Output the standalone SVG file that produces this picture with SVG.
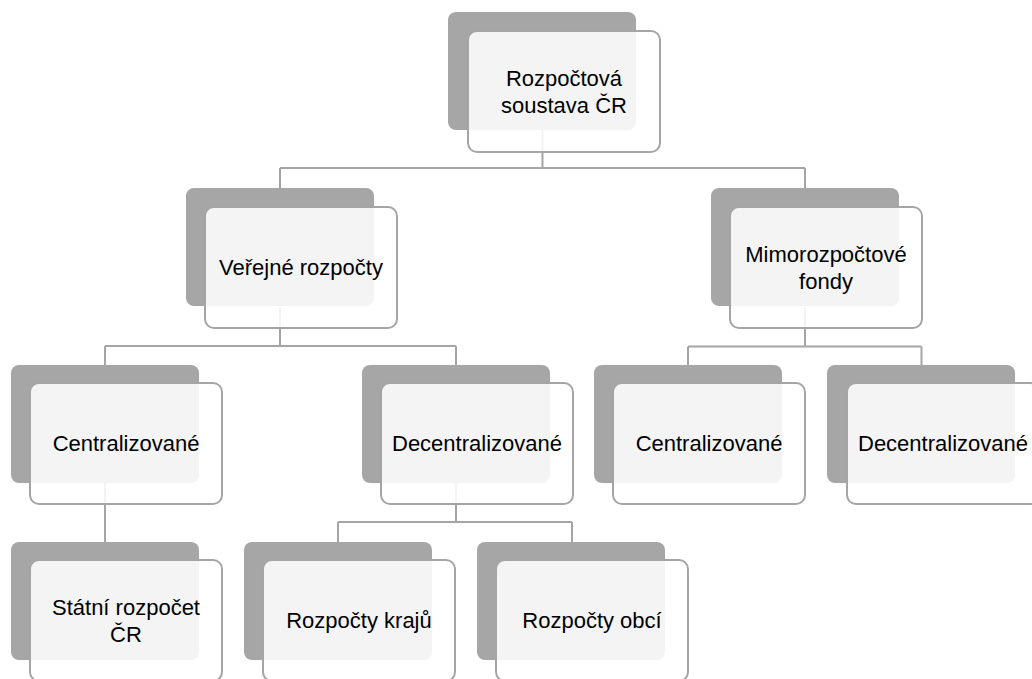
<svg xmlns="http://www.w3.org/2000/svg" width="1032" height="679" viewBox="0 0 1032 679">
<style>
.back{fill:#a6a6a6;}
.front{fill:#ffffff;fill-opacity:0.87;stroke:#a5a5a5;stroke-width:2;}
.lbl{font-family:"Liberation Sans",Arial,sans-serif;font-size:22px;fill:#000;text-anchor:middle;}
.con{fill:none;stroke:#a5a5a5;stroke-width:2;}
</style>
<rect width="1032" height="679" fill="#ffffff"/>
<g id="connectors">
<path class="con" d="M542.5,129 V168 M280,168 H805 M280,168 V188 M805,168 V188"/>
<path class="con" d="M280,307 V346 M105,346 H456 M105,346 V365 M456,346 V365"/>
<path class="con" d="M805,307 V346.5 M688,346.5 H921.5 M688,346.5 V365 M921.5,346.5 V365"/>
<path class="con" d="M105,483 V542"/>
<path class="con" d="M456,483 V522 M338,522 H572 M338,522 V542 M572,522 V542"/>
</g>
<g id="n-root">
<rect class="back" x="448" y="12" width="188" height="118" rx="8"/>
<rect class="front" x="468" y="31" width="192" height="121" rx="9"/>
<text class="lbl" x="564" y="85.5">Rozpočtová</text>
<text class="lbl" x="564" y="112.5">soustava ČR</text>
</g>
<g id="n-verejne">
<rect class="back" x="186" y="188" width="188" height="118" rx="8"/>
<rect class="front" x="205" y="207" width="192" height="121" rx="9"/>
<text class="lbl" x="301" y="275">Veřejné rozpočty</text>
</g>
<g id="n-mimo">
<rect class="back" x="711" y="188" width="188" height="118" rx="8"/>
<rect class="front" x="730" y="207" width="192" height="121" rx="9"/>
<text class="lbl" x="826" y="261.5">Mimorozpočtové</text>
<text class="lbl" x="826" y="288.5">fondy</text>
</g>
<g id="n-cent-l">
<rect class="back" x="11" y="365" width="188" height="118" rx="8"/>
<rect class="front" x="30" y="383" width="192" height="121" rx="9"/>
<text class="lbl" x="126" y="451">Centralizované</text>
</g>
<g id="n-dec-l">
<rect class="back" x="362" y="365" width="188" height="118" rx="8"/>
<rect class="front" x="381" y="383" width="192" height="121" rx="9"/>
<text class="lbl" x="477" y="451">Decentralizované</text>
</g>
<g id="n-cent-r">
<rect class="back" x="594" y="365" width="188" height="118" rx="8"/>
<rect class="front" x="613" y="383" width="192" height="121" rx="9"/>
<text class="lbl" x="709" y="451">Centralizované</text>
</g>
<g id="n-dec-r">
<rect class="back" x="827" y="365" width="188" height="118" rx="8"/>
<rect class="front" x="847" y="383" width="192" height="121" rx="9"/>
<text class="lbl" x="943" y="451">Decentralizované</text>
</g>
<g id="n-statni">
<rect class="back" x="11" y="542" width="188" height="118" rx="8"/>
<rect class="front" x="30" y="560" width="192" height="121" rx="9"/>
<text class="lbl" x="126" y="614.5">Státní rozpočet</text>
<text class="lbl" x="126" y="641.5">ČR</text>
</g>
<g id="n-kraje">
<rect class="back" x="244" y="542" width="188" height="118" rx="8"/>
<rect class="front" x="263" y="560" width="192" height="121" rx="9"/>
<text class="lbl" x="359" y="628">Rozpočty krajů</text>
</g>
<g id="n-obce">
<rect class="back" x="477" y="542" width="188" height="118" rx="8"/>
<rect class="front" x="496" y="560" width="192" height="121" rx="9"/>
<text class="lbl" x="592" y="628">Rozpočty obcí</text>
</g>
</svg>
